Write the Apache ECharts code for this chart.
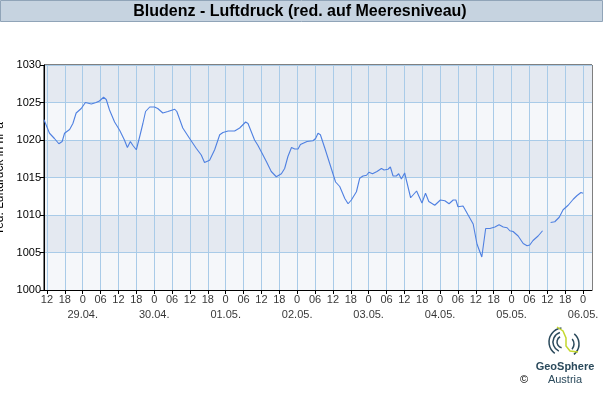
<!DOCTYPE html>
<html><head><meta charset="utf-8">
<script src="https://cdn.jsdelivr.net/npm/echarts@6/dist/echarts.min.js"></script>
<style>html,body{margin:0;padding:0;background:#fff}#c{width:603px;height:400px}</style>
</head><body><div id="c"></div>
<script>
// time in hours since 28.04. 00:00
var hours = [11.0,12.85,14.5,16.0,17.1,17.9,19.6,20.7,21.8,23.5,24.9,26.9,28.5,29.6,31.0,31.9,33.0,34.7,36.4,38.0,39.0,40.0,40.8,42.0,43.1,44.2,45.1,46.5,48.1,49.2,50.9,52.6,54.9,55.6,57.6,59.9,62.1,63.8,64.9,66.6,68.3,70.0,71.1,72.8,75.0,76.7,78.7,79.5,81.7,82.8,84.0,85.7,87.3,89.0,90.7,91.8,92.9,94.1,95.2,96.3,97.1,98.2,99.3,101.3,102.2,103.0,103.8,105.3,106.9,108.9,110.3,112.0,113.1,114.2,115.9,117.0,118.1,119.3,120.1,121.3,122.8,124.3,125.2,126.5,127.3,128.2,129.3,130.1,131.0,132.1,134.1,136.1,137.9,139.1,140.2,142.2,144.1,145.6,147.0,148.4,149.3,150.0,151.7,153.4,155.1,156.4,158.0,159.3,160.7,162.4,163.8,165.2,166.5,167.4,168.5,170.2,171.9,173.2,174.1,175.2,176.9,178.4,179.6,181.1,182.5,184.0,185.3,187.0,188.7,190.0,191.3,192.0];
var pressure = [1022.7,1020.9,1020.2,1019.5,1019.8,1020.9,1021.4,1022.2,1023.6,1024.2,1025.0,1024.8,1025.0,1025.2,1025.7,1025.4,1024.0,1022.4,1021.3,1020.0,1019.0,1019.8,1019.3,1018.7,1020.4,1022.2,1023.8,1024.4,1024.4,1024.2,1023.6,1023.8,1024.1,1023.8,1021.6,1020.2,1018.9,1018.0,1017.0,1017.3,1018.7,1020.7,1021.0,1021.2,1021.2,1021.6,1022.4,1022.2,1020.0,1019.3,1018.4,1017.1,1015.8,1015.1,1015.5,1016.2,1017.8,1019.0,1018.8,1018.8,1019.4,1019.6,1019.8,1019.9,1020.2,1020.9,1020.7,1018.9,1016.9,1014.4,1013.8,1012.2,1011.5,1012.0,1013.1,1014.9,1015.2,1015.3,1015.7,1015.5,1015.8,1016.2,1016.0,1016.1,1016.4,1015.2,1015.2,1015.5,1014.8,1015.6,1012.3,1013.2,1011.6,1012.9,1011.8,1011.3,1012.0,1011.9,1011.5,1012.0,1012.0,1011.1,1011.2,1010.0,1008.8,1006.1,1004.4,1008.2,1008.2,1008.4,1008.7,1008.4,1008.3,1007.9,1007.8,1007.2,1006.2,1005.9,1006.0,1006.6,1007.2,1007.9,null,1009.0,1009.1,1009.7,1010.7,1011.3,1012.1,1012.6,1013.0,1012.9];
var dateLabels = ['29.04.','30.04.','01.05.','02.05.','03.05.','04.05.','05.05.','06.05.'];
var hourLabels = {0:'0',6:'06',12:'12',18:'18'};
var tickHours = [];
for (var h = 12; h <= 192; h += 6) tickHours.push(h);
var dayHours = [];
for (var d = 24; d <= 192; d += 24) dayHours.push(d);

var chart = echarts.init(document.getElementById('c'), null, {renderer:'canvas'});
var data = hours.map(function(t,i){ return [t, pressure[i]]; });
var dayData = dayHours.map(function(t,i){ return {value:[t, 1000], name:dateLabels[i]}; });
var hourData = tickHours.map(function(t){ return {value:[t, 1000], name:hourLabels[t % 24]}; });
var font = 'Liberation Sans, Arial, sans-serif';
chart.setOption({
  animation:false,
  backgroundColor:'#fff',
  graphic:[
    {type:'rect', shape:{x:0.5,y:0.5,width:602,height:21}, style:{fill:'#c6d3e0', stroke:'#90a4b8', lineWidth:1}, z:10},
    {type:'text', x:300, y:11.5, style:{text:'Bludenz - Luftdruck (red. auf Meeresniveau)', font:'bold 16px '+font, fill:'#000', textAlign:'center', textVerticalAlign:'middle'}, z:11},
    {type:'text', x:565, y:367, style:{text:'GeoSphere', font:'bold 11px '+font, fill:'#2b4a5c', textAlign:'center', textVerticalAlign:'middle'}},
    {type:'text', x:565, y:380, style:{text:'Austria', font:'11px '+font, fill:'#2b4a5c', textAlign:'center', textVerticalAlign:'middle'}},
    {type:'text', x:524, y:380, style:{text:'©', font:'11px '+font, fill:'#000', textAlign:'center', textVerticalAlign:'middle'}},
    {type:'arc', shape:{cx:563,cy:342,r:14,startAngle:2.2,endAngle:4.6}, style:{stroke:'#2b4a5c',lineWidth:1.5,fill:null}},
    {type:'arc', shape:{cx:563,cy:342,r:10,startAngle:2.0,endAngle:4.4}, style:{stroke:'#2b4a5c',lineWidth:1.5,fill:null}},
    {type:'arc', shape:{cx:563,cy:342,r:6,startAngle:1.8,endAngle:4.2}, style:{stroke:'#2b4a5c',lineWidth:1.5,fill:null}},
    {type:'arc', shape:{cx:566,cy:344,r:13,startAngle:5.4,endAngle:7.2}, style:{stroke:'#2b4a5c',lineWidth:1.5,fill:null}},
    {type:'arc', shape:{cx:566,cy:344,r:8,startAngle:5.6,endAngle:7.0}, style:{stroke:'#2b4a5c',lineWidth:1.5,fill:null}},
    {type:'polyline', shape:{points:[[557,327],[563,331],[566,338],[566,346],[570,351],[578,352]]}, style:{stroke:'#c5d82e',lineWidth:1.5,fill:null}}
  ],
  grid:{left:44, right:11, top:65, bottom:110, show:true, borderColor:'#000', borderWidth:1, backgroundColor:'transparent', containLabel:false, outerBoundsMode:'none'},
  xAxis:{
    type:'value', min:11, max:195,
    axisLine:{show:true, onZero:false, lineStyle:{color:'#000'}},
    axisTick:{show:true, length:4, inside:false, customValues:tickHours, lineStyle:{color:'#000'}},
    axisLabel:{show:false, customValues:tickHours},
    splitLine:{show:true, lineStyle:{color:'#a9cbe8', width:1}}
  },
  yAxis:{
    type:'value', min:1000, max:1030, interval:5,
    name:'red. Luftdruck in hPa', nameLocation:'middle', nameGap:37, nameRotate:90,
    nameTextStyle:{color:'#000', fontSize:12, fontFamily:font},
    axisLine:{show:true, lineStyle:{color:'#000'}},
    axisTick:{show:true, length:4, lineStyle:{color:'#000'}},
    axisLabel:{margin:3, color:'#000', fontSize:11, fontFamily:font, formatter:function(v){ return String(v); }},
    splitLine:{show:true, lineStyle:{color:'#a9cbe8', width:1}},
    splitArea:{show:true, areaStyle:{color:['#f5f7fa','#e4e9f1']}}
  },
  series:[{
    type:'line', data:data, showSymbol:false, connectNulls:false,
    lineStyle:{color:'#4f80e1', width:1.1}, itemStyle:{color:'#4f80e1'}
  },{
    type:'scatter', data:hourData, symbolSize:0, clip:false, silent:true,
    label:{show:true, position:'bottom', distance:4, color:'#000', fontSize:11, fontFamily:font, formatter:function(p){ return p.name; }}
  },{
    type:'scatter', data:dayData, symbolSize:0, clip:false, silent:true,
    label:{show:true, position:'bottom', distance:19, color:'#000', fontSize:11, fontFamily:font, formatter:function(p){ return p.name; }}
  }]
});
</script></body></html>
